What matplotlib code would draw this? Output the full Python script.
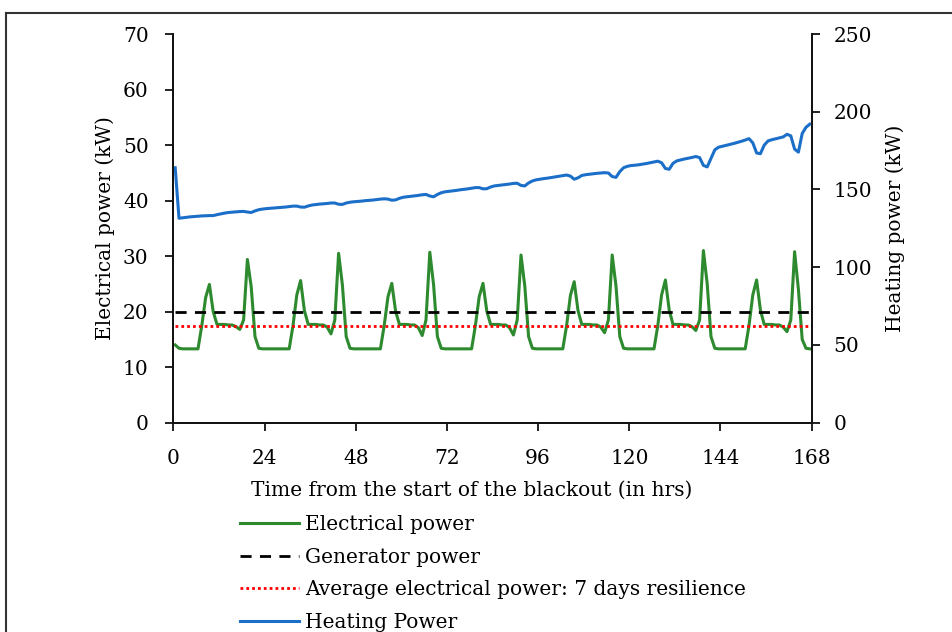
import numpy as np
import matplotlib
matplotlib.use('Agg')
import matplotlib.pyplot as plt
from matplotlib.lines import Line2D

plt.rcParams['font.family'] = ['DejaVu Serif']
plt.rcParams['font.size'] = 14.5

# hourly samples, plotted at the middle of each hour
hours = np.arange(168) + 0.5

# electrical power (kW), one list per day
elec_day1 = [14.0, 13.4, 13.3, 13.3, 13.3, 13.3, 13.3, 17.5, 22.5, 24.9, 20.0, 17.7,
             17.7, 17.7, 17.6, 17.6, 17.3, 16.8, 18.5, 29.4, 24.5, 15.5, 13.4, 13.3]
elec_day2 = [13.3, 13.3, 13.3, 13.3, 13.3, 13.3, 13.3, 17.5, 23.0, 25.6, 20.2, 17.7,
             17.7, 17.7, 17.6, 17.6, 17.2, 16.0, 18.5, 30.5, 24.8, 15.5, 13.4, 13.3]
elec_day3 = [13.3, 13.3, 13.3, 13.3, 13.3, 13.3, 13.3, 17.5, 22.7, 25.1, 20.1, 17.7,
             17.7, 17.7, 17.6, 17.6, 17.1, 15.7, 18.5, 30.7, 24.8, 15.5, 13.4, 13.3]
elec_day4 = [13.3, 13.3, 13.3, 13.3, 13.3, 13.3, 13.3, 17.5, 22.7, 25.1, 20.1, 17.7,
             17.7, 17.7, 17.6, 17.6, 17.1, 15.8, 18.5, 30.2, 24.6, 15.5, 13.4, 13.3]
elec_day5 = [13.3, 13.3, 13.3, 13.3, 13.3, 13.3, 13.3, 17.5, 22.9, 25.4, 20.2, 17.7,
             17.7, 17.7, 17.6, 17.6, 17.2, 16.2, 18.5, 30.2, 24.6, 15.5, 13.4, 13.3]
elec_day6 = [13.3, 13.3, 13.3, 13.3, 13.3, 13.3, 13.3, 17.5, 23.0, 25.7, 20.3, 17.7,
             17.7, 17.7, 17.6, 17.6, 17.3, 16.6, 18.5, 31.0, 25.0, 15.5, 13.4, 13.3]
elec_day7 = [13.3, 13.3, 13.3, 13.3, 13.3, 13.3, 13.3, 17.5, 23.0, 25.7, 20.3, 17.7,
             17.7, 17.7, 17.6, 17.6, 17.2, 16.4, 18.5, 30.8, 24.0, 15.0, 13.4, 13.3]

# heating power (kW), one list per day
heat_day1 = [164.0, 131.5, 131.8, 132.1, 132.4, 132.6, 132.8, 133.0, 133.1, 133.2, 133.2, 133.8,
             134.3, 134.8, 135.2, 135.4, 135.6, 135.8, 135.9, 135.5, 135.2, 136.2, 137.0, 137.4]
heat_day2 = [137.7, 137.9, 138.1, 138.3, 138.5, 138.7, 139.0, 139.3, 139.3, 138.7, 138.6, 139.4,
             140.0, 140.3, 140.6, 140.8, 141.0, 141.3, 141.3, 140.5, 140.4, 141.3, 141.8, 142.1]
heat_day3 = [142.3, 142.5, 142.8, 143.0, 143.2, 143.5, 143.8, 144.0, 143.8, 143.1, 143.3, 144.3,
             145.0, 145.3, 145.6, 145.9, 146.2, 146.6, 146.8, 145.8, 145.3, 146.8, 147.9, 148.5]
heat_day4 = [148.8, 149.1, 149.4, 149.8, 150.1, 150.4, 150.8, 151.2, 151.2, 150.4, 150.5, 151.6,
             152.3, 152.6, 152.9, 153.2, 153.5, 153.9, 154.0, 152.6, 152.3, 154.2, 155.5, 156.2]
heat_day5 = [156.6, 157.0, 157.3, 157.7, 158.1, 158.5, 158.9, 159.3, 158.6, 156.6, 157.5, 159.0,
             159.5, 159.8, 160.1, 160.4, 160.6, 160.8, 160.6, 158.3, 157.8, 161.5, 164.0, 164.9]
heat_day6 = [165.4, 165.6, 165.9, 166.3, 166.7, 167.2, 167.7, 168.2, 167.2, 163.5, 163.0, 166.8,
             168.4, 169.0, 169.6, 170.1, 170.6, 171.2, 170.5, 165.5, 164.5, 170.0, 175.5, 177.2]
heat_day7 = [177.8, 178.4, 179.0, 179.6, 180.3, 181.0, 181.8, 182.7, 180.0, 173.5, 173.0, 178.5,
             181.2, 182.0, 182.6, 183.2, 183.8, 185.5, 184.5, 176.0, 174.0, 186.0, 190.0, 192.0]

generator_kw = 20.0
average_kw = 17.5

elec = np.concatenate([elec_day1, elec_day2, elec_day3, elec_day4, elec_day5, elec_day6, elec_day7])
heat = np.concatenate([heat_day1, heat_day2, heat_day3, heat_day4, heat_day5, heat_day6, heat_day7])

green = '#2E8A2E'
blue = '#1C6FC8'

fig = plt.figure(figsize=(9.52, 6.32), dpi=100)
W, H = 952.0, 632.0
ax = fig.add_axes([173.3 / W, 1 - 422.7 / H, 638.4 / W, 388.7 / H])
ax2 = ax.twinx()

l_el, = ax.plot(hours, elec, color=green, lw=2.2, solid_joinstyle='round',
                label='Electrical power')
l_gen = ax.axhline(generator_kw, xmin=0.5 / 168, color='black', lw=2.0, ls=(0, (4, 3)),
                   label='Generator power')
l_avg = ax.axhline(average_kw, xmin=0.5 / 168, color='red', lw=2.0, ls=(0, (1, 1.1)),
                   label='Average electrical power: 7 days resilience')
l_ht, = ax2.plot(hours, heat, color=blue, lw=2.2, solid_joinstyle='round',
                 label='Heating Power')

ax.set_xlim(0, 168)
ax.set_ylim(0, 70)
ax2.set_ylim(0, 250)
ax.set_xticks(np.arange(0, 169, 24))
ax.set_yticks(np.arange(0, 71, 10))
ax2.set_yticks(np.arange(0, 251, 50))

for a in (ax, ax2):
    a.spines['top'].set_visible(False)
    for s in a.spines.values():
        s.set_linewidth(1.3)
        s.set_color('#111111')
ax.tick_params(axis='both', direction='out', length=5.8, width=1.3, color='#111111')
ax.tick_params(axis='y', pad=12)
ax.tick_params(axis='x', pad=13)
ax2.tick_params(axis='y', direction='out', length=5.8, width=1.3, color='#111111', pad=10)

ax.set_ylabel('Electrical power (kW)')
ax.yaxis.set_label_coords(-0.091, 0.5)
ax2.set_ylabel('Heating power (kW)')
ax2.yaxis.set_label_coords(1.116, 0.5)
ax.set_xlabel('Time from the start of the blackout (in hrs)')
ax.xaxis.set_label_coords(0.468, -0.150)

fig.legend(handles=[l_el, l_gen, l_avg, l_ht], loc='upper left',
           bbox_to_anchor=(240 / W, 1 - 515 / H), frameon=False,
           handlelength=2.95, handletextpad=0.3, labelspacing=0.68,
           borderaxespad=0, borderpad=0)

# border of the figure panel
fig.add_artist(Line2D([6 / W, 6 / W], [0, 1 - 13 / H], transform=fig.transFigure,
                      color='#333333', lw=1.5))
fig.add_artist(Line2D([6 / W, 1], [1 - 13 / H, 1 - 13 / H], transform=fig.transFigure,
                      color='#333333', lw=1.5))

fig.savefig('out.png', dpi=100)
